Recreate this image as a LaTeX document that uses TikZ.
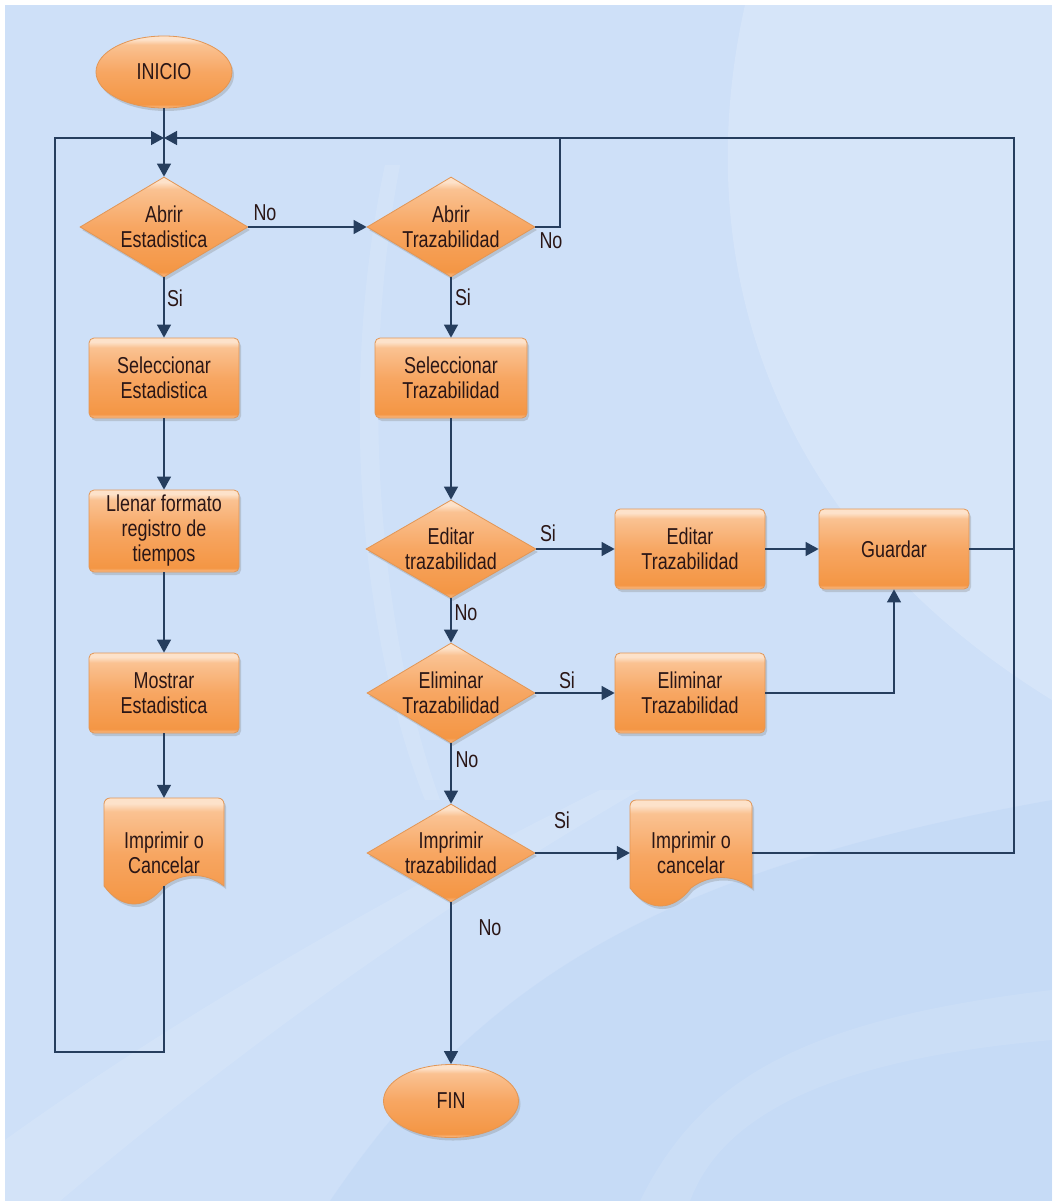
\documentclass[tikz,border=0pt]{standalone}
\usepackage{fontspec}
\setmainfont{Liberation Sans}[FakeStretch=0.78]
\usetikzlibrary{shapes.geometric,arrows.meta,shadows,calc}
\definecolor{bgblue}{RGB}{206,224,248}
\definecolor{bgdark}{RGB}{184,210,245}
\definecolor{ln}{RGB}{38,62,94}
\definecolor{txt}{RGB}{42,22,22}
\definecolor{gb}{RGB}{249,192,145}
\definecolor{gd}{RGB}{244,150,68}
\definecolor{gm}{RGB}{247,166,98}
\definecolor{gl}{RGB}{250,194,146}
\definecolor{gt}{RGB}{253,226,202}
\definecolor{bd}{RGB}{226,150,85}
\pgfdeclareverticalshading{gloss}{100bp}{color(0bp)=(gb); color(25bp)=(gb); color(27.5bp)=(gd); color(50bp)=(gm); color(69bp)=(gl); color(72.5bp)=(gt); color(75bp)=(gt); color(100bp)=(gt)}
\pgfdeclarelayer{bg}
\pgfsetlayers{bg,main}
\newcommand\docpath[5]{(#1,#2+#4) -- (#1,#2+6) .. controls (#1,#2+2.7) and (#1+2.7,#2) .. (#1+6,#2) -- (#1+#3-6,#2) .. controls (#1+#3-2.7,#2) and (#1+#3,#2+2.7) .. (#1+#3,#2+6) -- (#1+#3,#2+#4) .. controls (#1+0.85*#3,#2+#4-14) and (#1+0.65*#3,#2+#4-14) .. (#1+0.5*#3,#2+#4) coordinate (#5) .. controls (#1+0.35*#3,#2+#4+24) and (#1+0.15*#3,#2+#4+24) .. (#1,#2+#4) -- cycle}
\tikzset{
 every node/.style={font=\fontsize{23}{25}\selectfont, text=txt},
 shp/.style={shading=gloss, draw=bd, line width=.8pt, drop shadow={opacity=.3, shadow xshift=2pt, shadow yshift=-3pt}},
 proc/.style={shp, rectangle, rounded corners=5pt, minimum width=150pt, minimum height=80pt, inner sep=0pt, align=center},
 term/.style={shp, ellipse, minimum width=136pt, minimum height=72pt, inner sep=0pt},
 dec/.style={shp, diamond, minimum width=168pt, minimum height=100pt, inner sep=0pt},
 dlab/.style={align=center, inner sep=0pt},
 docn/.style={rectangle, inner sep=0pt, align=center},
 conn/.style={draw=ln, line width=1.3pt},
 arr/.style={conn, -{Triangle[length=13pt,width=14pt]}},
 lbl/.style={inner sep=0pt},
}
\begin{document}
\begin{tikzpicture}[x=1pt,y=-1pt]
\useasboundingbox (0,0) rectangle (1052,1201);
\begin{pgfonlayer}{bg}
\fill[white] (0,0) rectangle (1052,1201);
\fill[bgblue] (5,5) rectangle (1052,1201);
\fill[white, opacity=.18] (745,5) .. controls (690,250) and (760,520) .. (1052,700) -- (1052,5) -- cycle;
\fill[bgdark, opacity=.35] (330,1201) .. controls (480,980) and (660,870) .. (1052,800) -- (1052,1201) -- cycle;
\fill[white, opacity=.12] (5,1140) .. controls (200,1000) and (420,880) .. (600,790) -- (640,790) .. controls (450,900) and (250,1040) .. (60,1201) -- (5,1201) -- cycle;
\fill[white, opacity=.12] (385,165) .. controls (335,400) and (365,650) .. (425,800) -- (440,800) .. controls (385,650) and (355,400) .. (400,165) -- cycle;
\fill[white, opacity=.1] (640,1201) .. controls (700,1080) and (800,1020) .. (1052,990) -- (1052,1040) .. controls (820,1060) and (720,1120) .. (690,1201) -- cycle;
\end{pgfonlayer}

% left column
\node[term] (inicio) at (164,72) {INICIO};
\node[dec, label={[dlab]center:Abrir\\Estadistica}] (ae) at (164,227) {};
\node[proc] (se) at (164,378) {Seleccionar\\Estadistica};
\node[proc, minimum height=82pt] (lf) at (164,531) {Llenar formato\\registro de\\tiempos};
\node[proc] (me) at (164,693) {Mostrar\\Estadistica};
\path[shp] \docpath{104}{798}{120}{88}{d1b};
\node[docn, minimum width=120pt, minimum height=110pt] (d1) at (164,853) {Imprimir o\\Cancelar};

% middle column
\node[dec, label={[dlab]center:Abrir\\Trazabilidad}] (at) at (451,227) {};
\node[proc, minimum width=152pt] (st) at (451,378) {Seleccionar\\Trazabilidad};
\node[dec, minimum width=170pt, minimum height=98pt, label={[dlab]center:Editar\\trazabilidad}] (ed) at (451,549) {};
\node[dec, label={[dlab]center:Eliminar\\Trazabilidad}] (el) at (451,693) {};
\node[dec, minimum height=98pt, label={[dlab]center:Imprimir\\trazabilidad}] (it) at (451,853) {};
\node[term, minimum width=135pt, minimum height=73pt] (fin) at (451,1101) {FIN};

% right part
\node[proc] (eb) at (690,549) {Editar\\Trazabilidad};
\node[proc] (gu) at (894,549) {Guardar};
\node[proc] (eb2) at (690,693) {Eliminar\\Trazabilidad};
\path[shp] \docpath{630}{800}{122}{88}{d2b};
\node[docn, minimum width=122pt, minimum height=106pt] (d2) at (691,853) {Imprimir o\\cancelar};

% helper coordinates
\coordinate (j) at (164,138);
\coordinate (nt) at (560,138);
\coordinate (lb) at (55,1052);
\coordinate (lt) at (55,138);
\coordinate (rb) at (1014,853);
\coordinate (rt) at (1014,138);

% connectors
\draw[arr] (inicio.south) -- (ae.north);
\draw[arr] (ae.south) -- (se.north);
\draw[arr] (se.south) -- (lf.north);
\draw[arr] (lf.south) -- (me.north);
\draw[arr] (me.south) -- (d1.north);
\draw[arr] (d1b) -- (d1b |- lb) -- (lb) -- (lt) -- (j);
\draw[arr] (ae.east) -- (at.west);
\draw[conn] (at.east) -- (at.east -| nt) -- (nt);
\draw[arr] (at.south) -- (st.north);
\draw[arr] (st.south) -- (ed.north);
\draw[arr] (ed.east) -- (eb.west);
\draw[arr] (eb.east) -- (gu.west);
\draw[arr] (ed.south) -- (el.north);
\draw[arr] (el.east) -- (eb2.west);
\draw[arr] (eb2.east) -| (gu.south);
\draw[arr] (el.south) -- (it.north);
\draw[arr] (it.east) -- (d2.west);
\draw[arr] (it.south) -- (fin.north);
\draw[conn] (gu.east) -- (gu.east -| rt);
\draw[arr] (d2.east) -- (rb) -- (rt) -- (j);

% branch labels
\node[lbl] (l1) at (265,213) {No};
\node[lbl] (l2) at (175,298) {Si};
\node[lbl] (l3) at (551,241) {No};
\node[lbl] (l4) at (463,297) {Si};
\node[lbl] (l5) at (548,533) {Si};
\node[lbl] (l6) at (466,613) {No};
\node[lbl] (l7) at (567,680) {Si};
\node[lbl] (l8) at (467,760) {No};
\node[lbl] (l9) at (562,820) {Si};
\node[lbl] (l10) at (490,928) {No};
\end{tikzpicture}
\end{document}
